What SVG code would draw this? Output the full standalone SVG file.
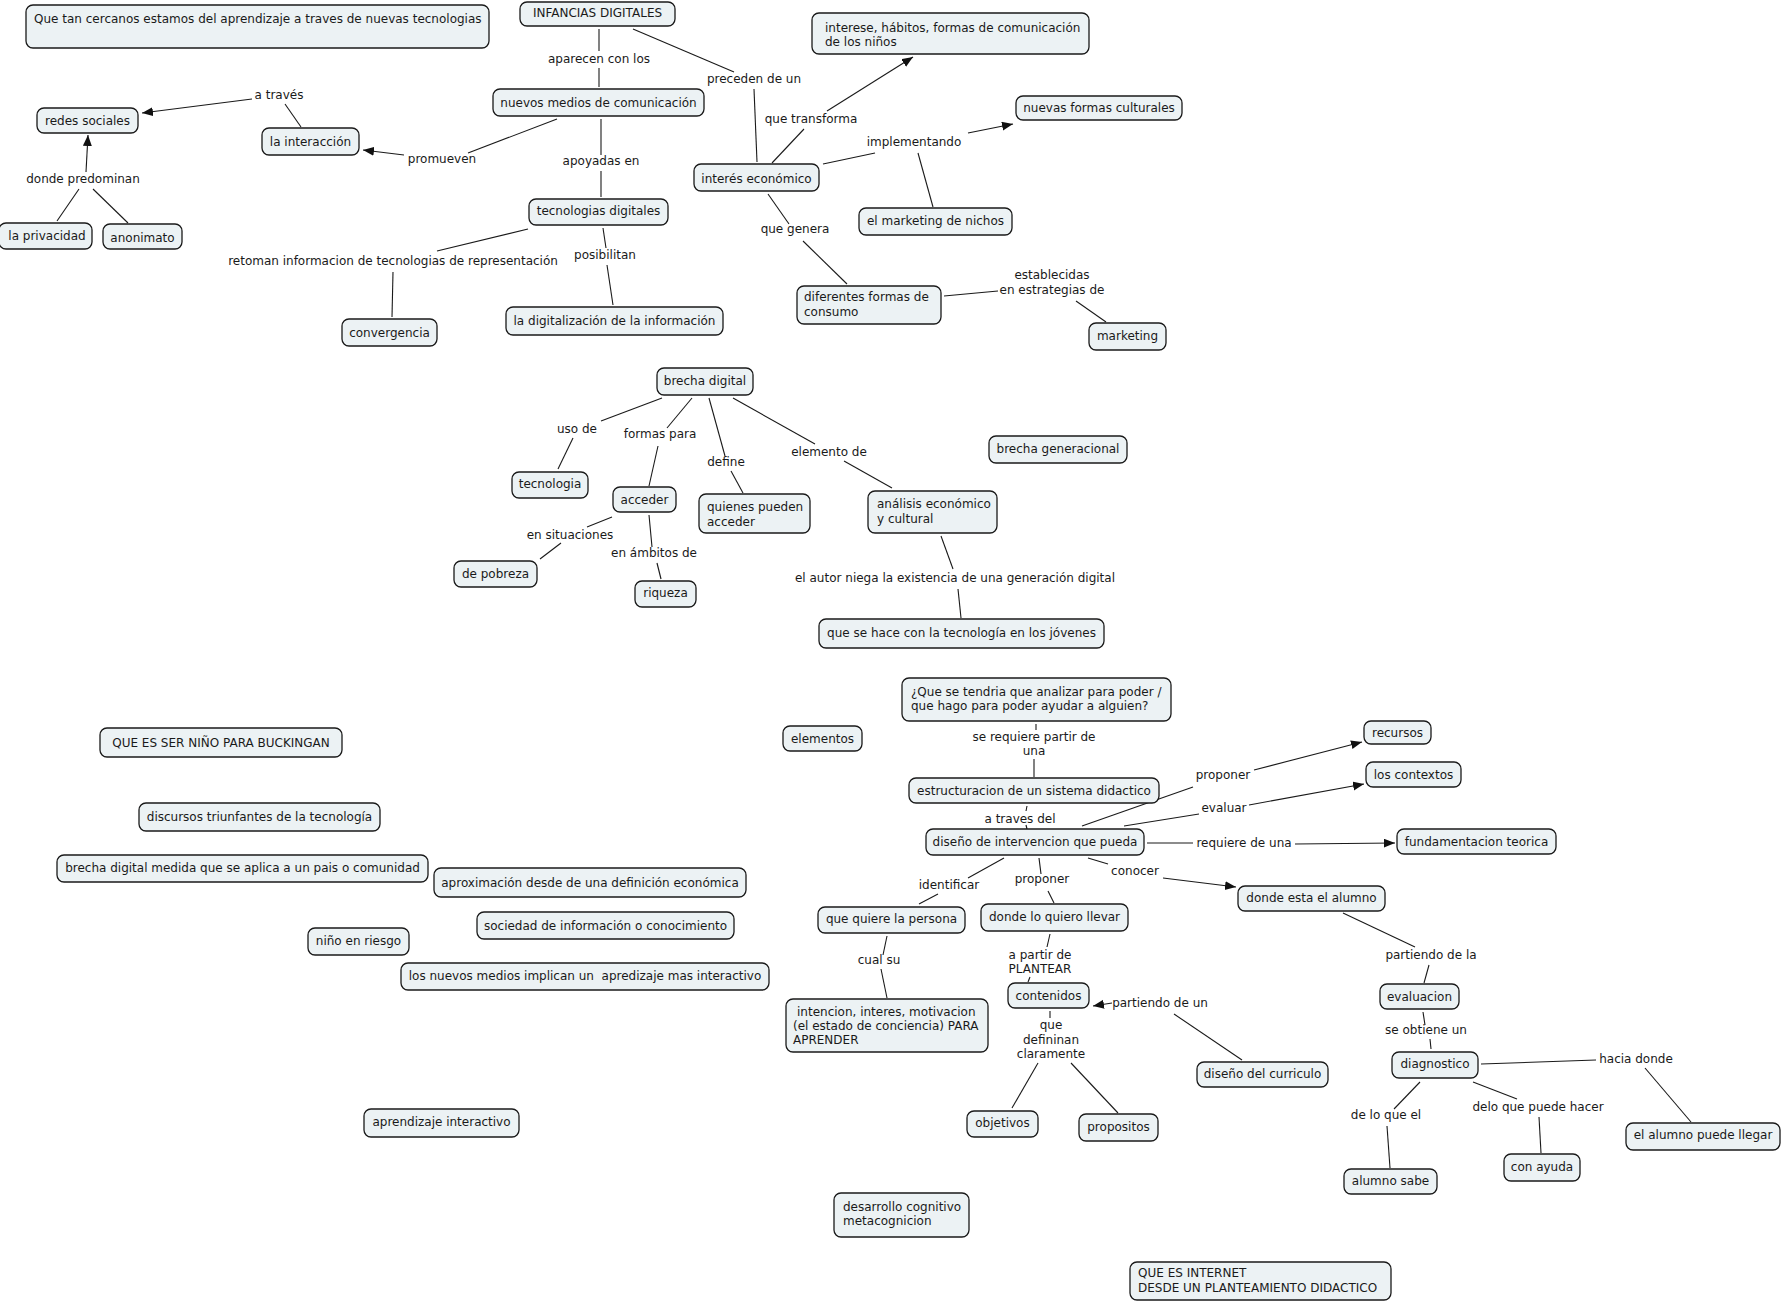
<svg xmlns="http://www.w3.org/2000/svg" width="1783" height="1302" viewBox="0 0 1783 1302">
<defs>
<marker id="ah" markerUnits="userSpaceOnUse" markerWidth="12" markerHeight="10" refX="11" refY="4.5" orient="auto"><path d="M0,0 L11,4.5 L0,9 z" fill="#111"/></marker>
<style>
text{font-family:"DejaVu Sans",Verdana,sans-serif;font-size:12px;fill:#1a1a1a}
.n rect{fill:#ecf2f4;stroke:#1a1a1a;stroke-width:1.3}
.n text.c,.l text{text-anchor:middle}
#conn line{stroke:#1a1a1a;stroke-width:1.1}
#conn line.a{marker-end:url(#ah)}
</style>
</defs>
<rect width="1783" height="1302" fill="#fff"/>
<g id="conn">
<line class="a" x1="252" y1="99" x2="142" y2="113"/>
<line x1="285" y1="104" x2="301" y2="127"/>
<line class="a" x1="404" y1="155" x2="363" y2="150"/>
<line class="a" x1="86" y1="172" x2="88" y2="135"/>
<line x1="79" y1="189" x2="57" y2="221"/>
<line x1="93" y1="189" x2="128" y2="223"/>
<line x1="437" y1="251" x2="528" y2="229"/>
<line x1="393" y1="272" x2="392" y2="317"/>
<line x1="599" y1="29" x2="599" y2="51"/>
<line x1="599" y1="68" x2="599" y2="87"/>
<line x1="557" y1="119" x2="468" y2="153"/>
<line x1="601" y1="119" x2="601" y2="155"/>
<line x1="601" y1="171" x2="601" y2="197"/>
<line x1="603" y1="228" x2="606" y2="248"/>
<line x1="607" y1="265" x2="613" y2="305"/>
<line x1="633" y1="29" x2="734" y2="72"/>
<line x1="754" y1="89" x2="757" y2="162"/>
<line x1="772" y1="163" x2="804" y2="129"/>
<line class="a" x1="827" y1="111" x2="913" y2="57"/>
<line x1="823" y1="164" x2="875" y2="153"/>
<line class="a" x1="968" y1="133" x2="1013" y2="124"/>
<line x1="918" y1="153" x2="933" y2="207"/>
<line x1="768" y1="194" x2="789" y2="224"/>
<line x1="803" y1="241" x2="847" y2="284"/>
<line x1="944" y1="296" x2="998" y2="291"/>
<line x1="1076" y1="301" x2="1106" y2="322"/>
<line x1="662" y1="398" x2="601" y2="421"/>
<line x1="573" y1="438" x2="558" y2="469"/>
<line x1="692" y1="398" x2="667" y2="428"/>
<line x1="658" y1="446" x2="649" y2="486"/>
<line x1="612" y1="517" x2="587" y2="527"/>
<line x1="561" y1="543" x2="540" y2="559"/>
<line x1="649" y1="515" x2="652" y2="547"/>
<line x1="657" y1="563" x2="661" y2="579"/>
<line x1="709" y1="398" x2="725" y2="456"/>
<line x1="731" y1="471" x2="743" y2="493"/>
<line x1="733" y1="398" x2="815" y2="444"/>
<line x1="844" y1="461" x2="892" y2="488"/>
<line x1="941" y1="536" x2="953" y2="569"/>
<line x1="958" y1="589" x2="961" y2="618"/>
<line x1="1036" y1="724" x2="1036" y2="730"/>
<line x1="1034" y1="759" x2="1034" y2="777"/>
<line x1="1027" y1="806" x2="1026" y2="811"/>
<line x1="1026" y1="825" x2="1027" y2="829"/>
<line x1="1082" y1="826" x2="1193" y2="787"/>
<line class="a" x1="1254" y1="770" x2="1362" y2="742"/>
<line x1="1124" y1="826" x2="1199" y2="814"/>
<line class="a" x1="1249" y1="805" x2="1364" y2="784"/>
<line x1="1147" y1="843" x2="1193" y2="843"/>
<line class="a" x1="1295" y1="844" x2="1395" y2="843"/>
<line x1="1088" y1="858" x2="1108" y2="864"/>
<line class="a" x1="1163" y1="878" x2="1236" y2="887"/>
<line x1="1004" y1="858" x2="968" y2="878"/>
<line x1="938" y1="894" x2="919" y2="904"/>
<line x1="1039" y1="858" x2="1041" y2="874"/>
<line x1="1048" y1="891" x2="1054" y2="903"/>
<line x1="887" y1="936" x2="883" y2="955"/>
<line x1="881" y1="969" x2="887" y2="998"/>
<line x1="1050" y1="934" x2="1047" y2="947"/>
<line x1="1030" y1="977" x2="1028" y2="982"/>
<line class="a" x1="1112" y1="1003" x2="1093" y2="1006"/>
<line x1="1174" y1="1014" x2="1242" y2="1060"/>
<line x1="1050" y1="1011" x2="1050" y2="1018"/>
<line x1="1038" y1="1063" x2="1012" y2="1108"/>
<line x1="1071" y1="1063" x2="1118" y2="1113"/>
<line x1="1343" y1="913" x2="1415" y2="947"/>
<line x1="1429" y1="965" x2="1424" y2="983"/>
<line x1="1423" y1="1012" x2="1425" y2="1025"/>
<line x1="1430" y1="1039" x2="1431" y2="1049"/>
<line x1="1481" y1="1064" x2="1596" y2="1060"/>
<line x1="1645" y1="1068" x2="1691" y2="1122"/>
<line x1="1420" y1="1082" x2="1394" y2="1109"/>
<line x1="1387" y1="1126" x2="1390" y2="1168"/>
<line x1="1473" y1="1082" x2="1517" y2="1099"/>
<line x1="1539" y1="1117" x2="1541" y2="1153"/>
</g>
<g id="labels" class="l">
<text x="279" y="99">a través</text>
<text x="442" y="163">promueven</text>
<text x="83" y="183">donde predominan</text>
<text x="393" y="265">retoman informacion de tecnologias de representación</text>
<text x="599" y="63">aparecen con los</text>
<text x="601" y="165">apoyadas en</text>
<text x="605" y="259">posibilitan</text>
<text x="754" y="83">preceden de un</text>
<text x="811" y="123">que transforma</text>
<text x="914" y="146">implementando</text>
<text x="795" y="233">que genera</text>
<text x="1052" y="279">establecidas</text>
<text x="1052" y="294">en estrategias de</text>
<text x="577" y="433">uso de</text>
<text x="660" y="438">formas para</text>
<text x="726" y="466">define</text>
<text x="829" y="456">elemento de</text>
<text x="570" y="539">en situaciones</text>
<text x="654" y="557">en ámbitos de</text>
<text x="955" y="582">el autor niega la existencia de una generación digital</text>
<text x="1034" y="741">se requiere partir de</text>
<text x="1034" y="755">una</text>
<text x="1020" y="823">a traves del</text>
<text x="1223" y="779">proponer</text>
<text x="1224" y="812">evaluar</text>
<text x="1244" y="847">requiere de una</text>
<text x="1135" y="875">conocer</text>
<text x="949" y="889">identificar</text>
<text x="1042" y="883">proponer</text>
<text x="879" y="964">cual su</text>
<text x="1040" y="959">a partir de</text>
<text x="1040" y="973">PLANTEAR</text>
<text x="1160" y="1007">partiendo de un</text>
<text x="1051" y="1029">que</text>
<text x="1051" y="1044">defininan</text>
<text x="1051" y="1058">claramente</text>
<text x="1431" y="959">partiendo de la</text>
<text x="1426" y="1034">se obtiene un</text>
<text x="1636" y="1063">hacia donde</text>
<text x="1386" y="1119">de lo que el</text>
<text x="1538" y="1111">delo que puede hacer</text>
</g>
<g id="n1" class="n"><rect x="26" y="5" width="463" height="43" rx="7"/><text x="34" y="23">Que tan cercanos estamos del aprendizaje a traves de nuevas tecnologias</text></g>
<g id="n2" class="n"><rect x="520" y="2" width="155" height="24" rx="7"/><text class="c" x="597.5" y="17">INFANCIAS DIGITALES</text></g>
<g id="n3" class="n"><rect x="812" y="13" width="277" height="41" rx="7"/><text x="825" y="32">interese, hábitos, formas de comunicación</text><text x="825" y="46">de los niños</text></g>
<g id="n4" class="n"><rect x="37" y="108" width="101" height="25" rx="7"/><text class="c" x="87.5" y="125">redes sociales</text></g>
<g id="n5" class="n"><rect x="262" y="128" width="97" height="27" rx="7"/><text class="c" x="310.5" y="146">la interacción</text></g>
<g id="n6" class="n"><rect x="493" y="89" width="211" height="27" rx="7"/><text class="c" x="598.5" y="107">nuevos medios de comunicación</text></g>
<g id="n7" class="n"><rect x="1016" y="96" width="166" height="24" rx="7"/><text class="c" x="1099" y="112">nuevas formas culturales</text></g>
<g id="n8" class="n"><rect x="694" y="164" width="125" height="27" rx="7"/><text class="c" x="756.5" y="183">interés económico</text></g>
<g id="n9" class="n"><rect x="529" y="199" width="139" height="26" rx="7"/><text class="c" x="598.5" y="215">tecnologias digitales</text></g>
<g id="n10" class="n"><rect x="859" y="208" width="153" height="27" rx="7"/><text class="c" x="935.5" y="225">el marketing de nichos</text></g>
<g id="n11" class="n"><rect x="-1" y="223" width="93" height="26" rx="7"/><text class="c" x="47" y="240">la privacidad</text></g>
<g id="n12" class="n"><rect x="103" y="224" width="79" height="25" rx="7"/><text class="c" x="142.5" y="242">anonimato</text></g>
<g id="n13" class="n"><rect x="797" y="286" width="144" height="38" rx="7"/><text x="804" y="301">diferentes formas de</text><text x="804" y="316">consumo</text></g>
<g id="n14" class="n"><rect x="342" y="319" width="95" height="27" rx="7"/><text class="c" x="389.5" y="337">convergencia</text></g>
<g id="n15" class="n"><rect x="506" y="307" width="217" height="28" rx="7"/><text class="c" x="614.5" y="325">la digitalización de la información</text></g>
<g id="n16" class="n"><rect x="1089" y="323" width="77" height="27" rx="7"/><text class="c" x="1127.5" y="340">marketing</text></g>
<g id="n17" class="n"><rect x="657" y="368" width="96" height="27" rx="7"/><text class="c" x="705" y="385">brecha digital</text></g>
<g id="n18" class="n"><rect x="512" y="472" width="76" height="26" rx="7"/><text class="c" x="550" y="488">tecnologia</text></g>
<g id="n19" class="n"><rect x="613" y="487" width="63" height="25" rx="7"/><text class="c" x="644.5" y="504">acceder</text></g>
<g id="n20" class="n"><rect x="699" y="494" width="111" height="39" rx="7"/><text x="707" y="511">quienes pueden</text><text x="707" y="526">acceder</text></g>
<g id="n21" class="n"><rect x="868" y="491" width="129" height="42" rx="7"/><text x="877" y="508">análisis económico</text><text x="877" y="523">y cultural</text></g>
<g id="n22" class="n"><rect x="989" y="436" width="138" height="27" rx="7"/><text class="c" x="1058" y="453">brecha generacional</text></g>
<g id="n23" class="n"><rect x="454" y="561" width="83" height="26" rx="7"/><text class="c" x="495.5" y="578">de pobreza</text></g>
<g id="n24" class="n"><rect x="635" y="581" width="61" height="26" rx="7"/><text class="c" x="665.5" y="597">riqueza</text></g>
<g id="n25" class="n"><rect x="819" y="619" width="285" height="29" rx="7"/><text class="c" x="961.5" y="637">que se hace con la tecnología en los jóvenes</text></g>
<g id="n26" class="n"><rect x="100" y="728" width="242" height="29" rx="7"/><text class="c" x="221" y="747">QUE ES SER NIÑO PARA BUCKINGAN</text></g>
<g id="n27" class="n"><rect x="902" y="678" width="269" height="43" rx="7"/><text x="911" y="696">¿Que se tendria que analizar para poder /</text><text x="911" y="710">que hago para poder ayudar a alguien?</text></g>
<g id="n28" class="n"><rect x="783" y="726" width="79" height="25" rx="7"/><text class="c" x="822.5" y="743">elementos</text></g>
<g id="n29" class="n"><rect x="1364" y="721" width="67" height="23" rx="7"/><text class="c" x="1397.5" y="737">recursos</text></g>
<g id="n30" class="n"><rect x="1366" y="762" width="95" height="25" rx="7"/><text class="c" x="1413.5" y="779">los contextos</text></g>
<g id="n31" class="n"><rect x="909" y="778" width="250" height="25" rx="7"/><text class="c" x="1034" y="795">estructuracion de un sistema didactico</text></g>
<g id="n32" class="n"><rect x="139" y="803" width="241" height="28" rx="7"/><text class="c" x="259.5" y="821">discursos triunfantes de la tecnología</text></g>
<g id="n33" class="n"><rect x="926" y="829" width="218" height="26" rx="7"/><text class="c" x="1035" y="846">diseño de intervencion que pueda</text></g>
<g id="n34" class="n"><rect x="1397" y="829" width="159" height="25" rx="7"/><text class="c" x="1476.5" y="846">fundamentacion teorica</text></g>
<g id="n35" class="n"><rect x="57" y="855" width="371" height="27" rx="7"/><text class="c" x="242.5" y="872">brecha digital medida que se aplica a un pais o comunidad</text></g>
<g id="n36" class="n"><rect x="434" y="868" width="312" height="29" rx="7"/><text class="c" x="590" y="887">aproximación desde de una definición económica</text></g>
<g id="n37" class="n"><rect x="1238" y="886" width="147" height="25" rx="7"/><text class="c" x="1311.5" y="902">donde esta el alumno</text></g>
<g id="n38" class="n"><rect x="818" y="907" width="147" height="26" rx="7"/><text class="c" x="891.5" y="923">que quiere la persona</text></g>
<g id="n39" class="n"><rect x="981" y="904" width="147" height="27" rx="7"/><text class="c" x="1054.5" y="921">donde lo quiero llevar</text></g>
<g id="n40" class="n"><rect x="477" y="912" width="257" height="27" rx="7"/><text class="c" x="605.5" y="930">sociedad de información o conocimiento</text></g>
<g id="n41" class="n"><rect x="308" y="928" width="101" height="27" rx="7"/><text class="c" x="358.5" y="945">niño en riesgo</text></g>
<g id="n42" class="n"><rect x="401" y="963" width="368" height="27" rx="7"/><text class="c" x="585" y="980" xml:space="preserve" style="white-space:pre">los nuevos medios implican un  apredizaje mas interactivo</text></g>
<g id="n43" class="n"><rect x="1008" y="983" width="81" height="25" rx="7"/><text class="c" x="1048.5" y="1000">contenidos</text></g>
<g id="n44" class="n"><rect x="1380" y="984" width="79" height="25" rx="7"/><text class="c" x="1419.5" y="1001">evaluacion</text></g>
<g id="n45" class="n"><rect x="786" y="999" width="202" height="53" rx="7"/><text x="797" y="1016">intencion, interes, motivacion</text><text x="793" y="1030">(el estado de conciencia) PARA</text><text x="793" y="1044">APRENDER</text></g>
<g id="n46" class="n"><rect x="1197" y="1062" width="131" height="25" rx="7"/><text class="c" x="1262.5" y="1078">diseño del curriculo</text></g>
<g id="n47" class="n"><rect x="1392" y="1052" width="86" height="26" rx="7"/><text class="c" x="1435" y="1068">diagnostico</text></g>
<g id="n48" class="n"><rect x="967" y="1111" width="71" height="26" rx="7"/><text class="c" x="1002.5" y="1127">objetivos</text></g>
<g id="n49" class="n"><rect x="1079" y="1114" width="79" height="27" rx="7"/><text class="c" x="1118.5" y="1131">propositos</text></g>
<g id="n50" class="n"><rect x="364" y="1109" width="155" height="28" rx="7"/><text class="c" x="441.5" y="1126">aprendizaje interactivo</text></g>
<g id="n51" class="n"><rect x="1626" y="1123" width="154" height="27" rx="7"/><text class="c" x="1703" y="1139">el alumno puede llegar</text></g>
<g id="n52" class="n"><rect x="1504" y="1154" width="76" height="27" rx="7"/><text class="c" x="1542" y="1171">con ayuda</text></g>
<g id="n53" class="n"><rect x="1344" y="1169" width="93" height="25" rx="7"/><text class="c" x="1390.5" y="1185">alumno sabe</text></g>
<g id="n54" class="n"><rect x="834" y="1193" width="135" height="44" rx="7"/><text x="843" y="1211">desarrollo cognitivo</text><text x="843" y="1225">metacognicion</text></g>
<g id="n55" class="n"><rect x="1130" y="1262" width="261" height="38" rx="7"/><text x="1138" y="1277">QUE ES INTERNET</text><text x="1138" y="1292">DESDE UN PLANTEAMIENTO DIDACTICO</text></g>
</svg>
